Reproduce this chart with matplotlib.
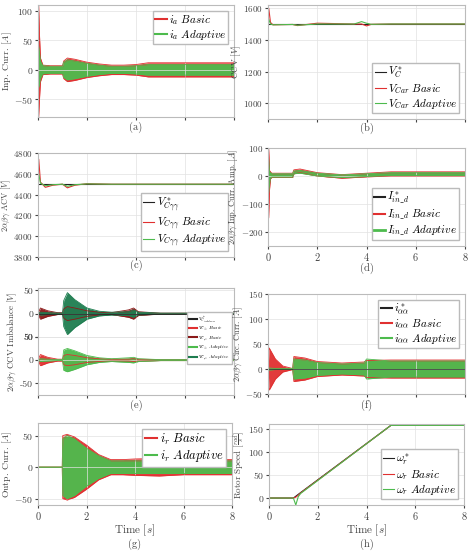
import matplotlib
matplotlib.use("Agg")
import matplotlib.pyplot as plt
import numpy as np

plt.rcParams['font.family'] = ['cmr10', 'DejaVu Serif']
plt.rcParams['mathtext.fontset'] = 'cm'
plt.rcParams['axes.formatter.use_mathtext'] = True
plt.rcParams['font.size'] = 7

RED = '#e03030'; GRN = '#4dbb4d'; DRED = '#8b1a1a'; DGRN = '#1e7d50'; BLK = '#222222'

# (a) input current envelopes
t_a = [0, 0.03, 0.06, 0.1, 0.2, 0.5, 1.0, 1.05, 1.2, 1.5, 2.0, 2.5, 3.0, 3.5, 4.0, 4.5, 5.0, 6.0, 7.0, 8.0]
a_red_hi = [0, 110, 60, 20, 8, 7, 7, 15, 20, 18, 13, 10, 8, 8, 9, 12, 12, 12, 12, 12]
a_red_lo = [0, -80, -50, -20, -8, -7, -7, -15, -20, -18, -13, -10, -8, -8, -9, -12, -12, -12, -12, -12]
a_grn_hi = [0, 40, 30, 15, 7, 6, 6, 13, 17, 15, 11, 8, 6, 6, 7, 9, 9, 9, 9, 9]
a_grn_lo = [0, -30, -25, -15, -7, -6, -6, -13, -17, -15, -11, -8, -6, -6, -7, -9, -9, -9, -9, -9]

# (b) CCV
t_b = [0, 0.03, 0.1, 0.2, 1.0, 1.2, 2.0, 3.5, 3.8, 4.0, 4.2, 5.0, 8.0]
b_ref = [1500] * len(t_b)
b_red = [1500, 1600, 1510, 1495, 1497, 1490, 1505, 1500, 1500, 1488, 1498, 1500, 1500]
b_grn = [1500, 1530, 1500, 1495, 1497, 1492, 1500, 1500, 1515, 1505, 1498, 1500, 1500]

# (c) ACV
t_c = [0, 0.03, 0.1, 0.3, 0.6, 1.0, 1.2, 1.5, 2.0, 3.0, 8.0]
c_ref = [4500] * len(t_c)
c_red = [4500, 4740, 4520, 4470, 4490, 4500, 4465, 4490, 4505, 4500, 4500]
c_grn = [4500, 4600, 4510, 4485, 4495, 4500, 4480, 4495, 4503, 4500, 4500]

# (d) input current amplitude
t_d = [0, 0.03, 0.06, 0.1, 0.15, 1.0, 1.05, 1.3, 2.0, 3.0, 4.0, 5.0, 8.0]
d_red_hi = [0, 100, 20, 15, 10, 10, 22, 25, 12, 5, 10, 15, 15]
d_red_lo = [0, -150, -50, -10, -5, -5, 8, 12, 0, -8, -3, 0, 0]
d_grn_hi = [0, 60, 15, 12, 8, 8, 18, 20, 10, 4, 8, 12, 12]
d_grn_lo = [0, -60, -30, -8, -4, -4, 8, 10, 0, -6, -2, 2, 2]

# (e) CCV imbalance (lower pair drawn shifted on the axis)
t_e = [0, 0.1, 0.4, 0.8, 1.0, 1.05, 1.2, 1.5, 2.0, 2.5, 3.0, 3.7, 3.9, 4.1, 5.0, 8.0]
e1_red = [0, 12, 6, 2, 2, 10, 15, 12, 6, 3, 2, 8, 12, 4, 1, 1]
e1_grn = [0, 3, 2, 1, 1, 28, 45, 30, 12, 5, 3, 4, 8, 3, 1, 1]
e2_red = [0, 12, 6, 2, 2, 10, 12, 10, 5, 3, 2, 2, 3, 2, 1, 1]
e2_grn = [0, 3, 2, 1, 1, 22, 25, 20, 10, 5, 3, 5, 6, 3, 1, 1]

# (f) circulating current
t_f = [0, 0.05, 0.3, 0.6, 1.0, 1.05, 1.5, 2.0, 3.0, 3.9, 4.0, 5.0, 8.0]
f_red = [0, 42, 20, 6, 1, 25, 22, 15, 12, 14, 17, 18, 18]
f_grn = [0, 2, 1, 1, 1, 20, 18, 13, 10, 12, 20, 16, 16]

# (g) output current
t_g = [0, 1.0, 1.02, 1.2, 1.5, 2.0, 2.5, 3.0, 3.5, 4.0, 5.0, 6.0, 8.0]
g_red = [0, 0, 50, 52, 48, 35, 20, 12, 12, 13, 14, 12, 12]
g_grn = [0, 0, 45, 50, 45, 30, 18, 10, 10, 10, 10, 10, 10]

# (h) rotor speed
t_h = [0, 1.0, 1.1, 1.2, 1.3, 5.0, 8.0]
h_ref = [0, 0, 4, 8, 12, 157, 157]
h_red = [0, 0, 2, 6, 11, 157, 157]
h_grn = [0, 0, -15, 3, 10, 157, 157]

fig = plt.figure(figsize=(4.74, 5.51), dpi=100)
W, H = 474, 551
def ax_at(l, t, r, b):
    return fig.add_axes([l / W, 1 - b / H, (r - l) / W, (b - t) / H])

def band(ax, t, lo, hi, c, lw=0.6):
    ax.fill_between(t, lo, hi, color=c, lw=0, alpha=0.95)
    ax.plot(t, hi, color=c, lw=lw); ax.plot(t, lo, color=c, lw=lw)

def style(ax, ylabel, tag, tag_y, xt=False, ylfs=7, yts=7):
    ax.set_xlim(0, 8)
    ax.set_xticks([0, 2, 4, 6, 8])
    ax.grid(True, color='#e2e2e2', lw=0.5)
    for s in ax.spines.values(): s.set_color('#bbbbbb')
    ax.tick_params(colors='#444444', length=2, labelsize=7.5, pad=1.5)
    ax.tick_params(axis='y', labelsize=yts)
    if not xt:
        ax.set_xticklabels([])
    ax.set_ylabel(ylabel, fontsize=ylfs, color='#444444', labelpad=0.5)
    bb = ax.get_position()
    fig.text((bb.x0 + bb.x1) / 2, 1 - tag_y / H, tag, ha='center', va='center', fontsize=7.5, color='#444444')

def leg(ax, loc='lower right', fs=8):
    ax.legend(loc=loc, fontsize=fs, handlelength=1, handletextpad=0.2, borderpad=0.2, labelspacing=0.1,
              fancybox=False, framealpha=1, edgecolor='#bbbbbb')

def xlab(ax):
    bb = ax.get_position()
    fig.text((bb.x0 + bb.x1) / 2, 1 - 530 / H, r'Time $[s]$', ha='center', va='center', fontsize=8, color='#444444')

# (a)
ax = ax_at(38, 5, 234, 117)
band(ax, t_a, a_red_lo, a_red_hi, RED)
band(ax, t_a, a_grn_lo, a_grn_hi, GRN)
ax.plot([], [], color=RED, label=r'$i_a\ Basic$'); ax.plot([], [], color=GRN, label=r'$i_a\ Adaptive$')
ax.set_ylim(-80, 110); ax.set_yticks([-50, 0, 50, 100])
style(ax, r'Inp. Curr. $[A]$', '(a)', 127); leg(ax, 'upper right')

# (b)
ax = ax_at(268, 5, 465, 119)
ax.plot(t_b, b_ref, color=BLK, lw=0.8, label=r'$V_C^*$')
ax.plot(t_b, b_red, color=RED, lw=0.8, label=r'$V_{Car}\ Basic$')
ax.plot(t_b, b_grn, color=GRN, lw=0.8, label=r'$V_{Car}\ Adaptive$')
ax.set_ylim(900, 1620); ax.set_yticks([1000, 1200, 1400, 1600])
style(ax, r'CCV $[V]$', '(b)', 128, ylfs=6.5, yts=6.5); leg(ax)

# (c)
ax = ax_at(38, 153, 234, 257)
ax.plot(t_c, c_ref, color=BLK, lw=0.8, label=r'$V_{C\gamma\gamma}^*$')
ax.plot(t_c, c_red, color=RED, lw=0.8, label=r'$V_{C\gamma\gamma}\ Basic$')
ax.plot(t_c, c_grn, color=GRN, lw=0.8, label=r'$V_{C\gamma\gamma}\ Adaptive$')
ax.set_ylim(3800, 4800); ax.set_yticks([3800, 4000, 4200, 4400, 4600, 4800])
style(ax, r'$2\alpha\beta\gamma$ ACV $[V]$', '(c)', 265, ylfs=6, yts=6.5); leg(ax)

# (d)
ax = ax_at(268, 148, 465, 246)
band(ax, t_d, d_red_lo, d_red_hi, RED)
band(ax, t_d, d_grn_lo, d_grn_hi, GRN)
ax.plot([], [], color=BLK, label=r'$I_{in\_d}^*$')
ax.plot([], [], color=RED, label=r'$I_{in\_d}\ Basic$')
ax.plot([], [], color=GRN, lw=2, label=r'$I_{in\_d}\ Adaptive$')
ax.set_ylim(-250, 100); ax.set_yticks([-200, -100, 0, 100])
style(ax, r'$2\alpha\beta\gamma$ Inp. Curr. Amp. $[A]$', '(d)', 268, xt=True, ylfs=6, yts=6.5); leg(ax)

# (e)
ax = ax_at(38, 288, 234, 395)
off = -100
band(ax, t_e, [-v for v in e1_red], e1_red, DRED)
band(ax, t_e, [-v for v in e1_grn], e1_grn, DGRN)
band(ax, t_e, [off - v for v in e2_red], [off + v for v in e2_red], RED)
band(ax, t_e, [off - v for v in e2_grn], [off + v for v in e2_grn], GRN)
ax.plot([0, 8], [0, 0], color=BLK, lw=0.6)
for c, lab in [(BLK, r'$V^*_{C_{imbalance}}$'), (RED, r'$V_{C_{\beta\alpha}}\ Basic$'), (DRED, r'$V_{C_{\gamma\alpha}}\ Basic$'),
               (GRN, r'$V_{C_{\beta\alpha}}\ Adaptive$'), (DGRN, r'$V_{C_{\gamma\alpha}}\ Adaptive$')]:
    ax.plot([], [], color=c, label=lab)
ax.set_ylim(-175, 55)
ax.set_yticks([50, 0, -50, off + 50, off, off - 50])
ax.set_yticklabels(['50', '0', '-50', '50', '0', '-50'])
style(ax, r'$2\alpha\beta\gamma$ CCV Imbalance $[V]$', '(e)', 405, ylfs=6.5)
ax.legend(loc='center right', bbox_to_anchor=(1.0, 0.53), fontsize=3.6, handlelength=1.6, handletextpad=0.3, borderpad=0.3,
          labelspacing=0.15, fancybox=False, framealpha=1, edgecolor='#bbbbbb')

# (f)
ax = ax_at(268, 294, 465, 394)
band(ax, t_f, [-v for v in f_red], f_red, RED)
band(ax, t_f, [-v for v in f_grn], f_grn, GRN)
ax.plot([0, 8], [0, 0], color=BLK, lw=0.5)
ax.plot([], [], color=BLK, label=r'$i^*_{\alpha\alpha}$'); ax.plot([], [], color=RED, label=r'$i_{\alpha\alpha}\ Basic$')
ax.plot([], [], color=GRN, label=r'$i_{\alpha\alpha}\ Adaptive$')
ax.set_ylim(-50, 150); ax.set_yticks([-50, 0, 50, 100, 150])
style(ax, r'$2\alpha\beta\gamma$ Circ. Curr. $[A]$', '(f)', 405, ylfs=6, yts=6.5); leg(ax, 'upper right')

# (g)
ax = ax_at(38, 423, 232, 505)
band(ax, t_g, [-v for v in g_red], g_red, RED)
band(ax, t_g, [-v for v in g_grn], g_grn, GRN)
ax.plot([], [], color=RED, label=r'$i_r\ Basic$'); ax.plot([], [], color=GRN, label=r'$i_r\ Adaptive$')
ax.set_ylim(-60, 70); ax.set_yticks([-50, 0, 50])
style(ax, r'Outp. Curr. $[A]$', '(g)', 544, xt=True); leg(ax, 'upper right', 9)
xlab(ax)

# (h)
ax = ax_at(269, 424, 464, 505)
ax.plot(t_h, h_ref, color=BLK, lw=0.8, label=r'$\omega_r^*$')
ax.plot(t_h, h_red, color=RED, lw=0.8, label=r'$\omega_r\ Basic$')
ax.plot(t_h, h_grn, color=GRN, lw=0.8, label=r'$\omega_r\ Adaptive$')
ax.set_ylim(-15, 160); ax.set_yticks([0, 50, 100, 150])
style(ax, r'Rotor Speed $[\frac{rad}{s}]$', '(h)', 544, xt=True, ylfs=6.5); leg(ax)
xlab(ax)

fig.savefig('out.png', dpi=100)
